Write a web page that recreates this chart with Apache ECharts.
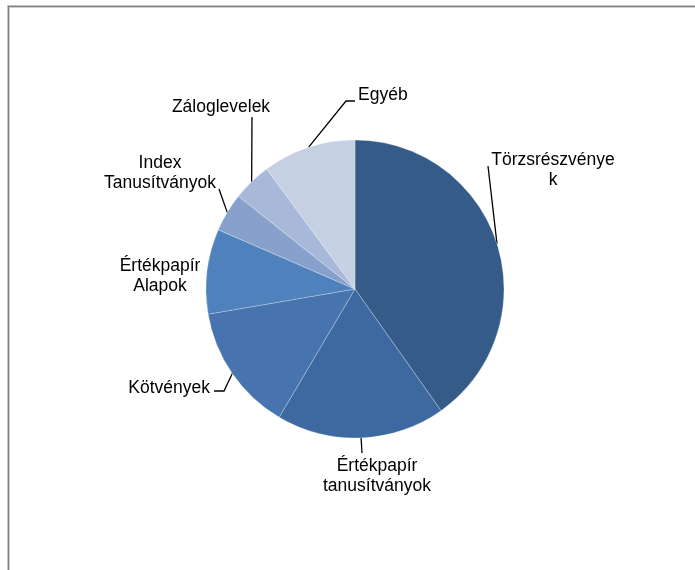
<!DOCTYPE html>
<html>
<head>
<meta charset="utf-8">
<script src="https://cdn.jsdelivr.net/npm/echarts@6/dist/echarts.min.js"></script>
<style>
  html, body { margin: 0; padding: 0; background: #fff; }
  #frame {
    position: absolute; left: 7px; top: 5px; width: 800px; height: 800px;
    box-sizing: border-box;
    border: 1px solid #c4c4c4;
    box-shadow: inset 0 0 0 1px #7f7f7f, inset 0 0 0 2px #cfcfcf;
  }
  #main { position: absolute; left: 0; top: 0; width: 695px; height: 570px; }
</style>
</head>
<body>
<div id="frame"></div>
<div id="main"></div>
<script>
// portfolio categories, share in %
const categories = [
  "Törzsrészvények",
  "Értékpapír tanusítványok",
  "Kötvények",
  "Értékpapír Alapok",
  "Index Tanusítványok",
  "Záloglevelek",
  "Egyéb"
];
const values = [40.2, 18.3, 13.8, 9.2, 4.2, 4.2, 10.1];
// wrapped text as shown in the chart
const labelText = [
  "Törzsrészvénye\nk",
  "Értékpapír\ntanusítványok",
  "Kötvények",
  "Értékpapír\nAlapok",
  "Index\nTanusítványok",
  "Záloglevelek",
  "Egyéb"
];
const colors = ["#355b88", "#3e69a0", "#4774ae", "#4f81bd", "#87a1cc", "#a7b8d9", "#c5d0e3"];

// label placement; "to" = where the leader line runs after leaving the slice edge
const labelPlace = [
  { x: 553, y: 150, align: "center", verticalAlign: "top", to: [[488, 166]] },
  { x: 377, y: 456, align: "center", verticalAlign: "top", to: [[362, 453]] },
  { x: 210, y: 388, align: "right", verticalAlign: "middle", to: [[224, 391], [214, 391]] },
  { x: 160, y: 256, align: "center", verticalAlign: "top", to: null },
  { x: 160, y: 153, align: "center", verticalAlign: "top", to: [[219, 189]] },
  { x: 221, y: 107, align: "center", verticalAlign: "middle", to: [[252, 117]] },
  { x: 358, y: 95, align: "left", verticalAlign: "middle", to: [[346, 101], [355, 101]] }
];

var chartDom = document.getElementById("main");
var myChart = echarts.init(chartDom, null, { renderer: "canvas" });

const data = categories.map((name, i) => ({
  name: name,
  value: values[i],
  itemStyle: { color: colors[i] },
  label: { formatter: labelText[i] },
  labelLine: { show: labelPlace[i].to != null }
}));

var option = {
  animation: false,
  series: [
    {
      type: "pie",
      center: [355, 289],
      radius: 149,
      startAngle: 90,
      clockwise: true,
      data: data,
      itemStyle: {
        borderColor: "rgba(255,255,255,0.5)",
        borderWidth: 0.5
      },
      label: {
        show: true,
        position: "outside",
        color: "#000",
        fontFamily: "Liberation Sans, Arial, sans-serif",
        fontSize: 17.5,
        lineHeight: 20
      },
      labelLine: {
        show: true,
        length: 10,
        length2: 8,
        lineStyle: { color: "#000", width: 1.3 }
      },
      labelLayout: function (params) {
        const p = labelPlace[params.dataIndex];
        const res = {
          x: p.x,
          y: p.y,
          align: p.align,
          verticalAlign: p.verticalAlign
        };
        // start the leader line at the slice's own anchor on the rim
        if (p.to && params.labelLinePoints) {
          res.labelLinePoints = [params.labelLinePoints[0]].concat(p.to);
        }
        return res;
      },
      emphasis: { disabled: true }
    }
  ]
};

option && myChart.setOption(option);
</script>
</body>
</html>
